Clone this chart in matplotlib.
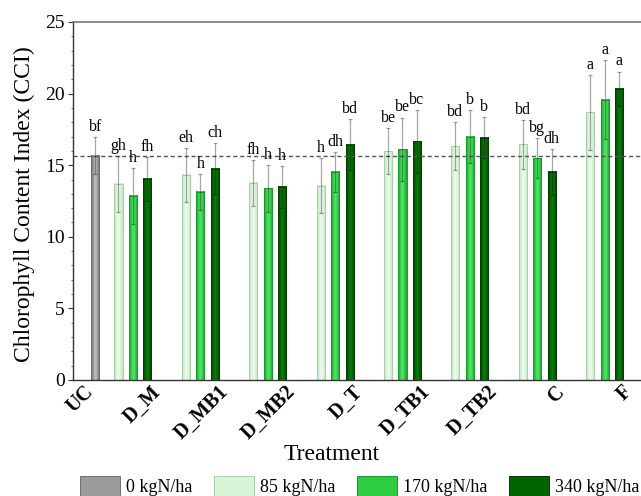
import numpy as np
import matplotlib
matplotlib.use("Agg")
import matplotlib.pyplot as plt
from matplotlib.colors import LinearSegmentedColormap
from matplotlib.patches import Patch

plt.rcParams['font.family'] = ['Liberation Serif', 'DejaVu Serif']

# ---------------- data ----------------
treatments = ['UC', 'D_M', 'D_MB1', 'D_MB2', 'D_T', 'D_TB1', 'D_TB2', 'C', 'F']
series_names = ['0 kgN/ha', '85 kgN/ha', '170 kgN/ha', '340 kgN/ha']

uc_value = 15.66
uc_err = 1.3
uc_letter = 'bf'

# treatments D_M ... F (8 groups)
n85 = [13.69, 14.32, 13.76, 13.57, 15.99, 16.32, 16.45, 18.69]
n85_err = [1.95, 1.9, 1.63, 1.92, 1.6, 1.68, 1.7, 2.6]
n85_let = ['gh', 'eh', 'fh', 'h', 'be', 'bd', 'bd', 'a']

n170 = [12.87, 13.15, 13.39, 14.53, 16.13, 16.99, 15.50, 19.58]
n170_err = [1.95, 1.25, 1.65, 1.4, 2.2, 1.85, 1.42, 2.78]
n170_let = ['h', 'h', 'h', 'dh', 'be', 'b', 'bg', 'a']

n340 = [14.04, 14.76, 13.48, 16.43, 16.67, 16.92, 14.53, 20.34]
n340_err = [1.52, 1.77, 1.44, 1.8, 2.2, 1.45, 1.58, 1.2]
n340_let = ['fh', 'ch', 'h', 'bd', 'bc', 'b', 'dh', 'a']

ref_line = uc_value

# ---------------- styling ----------------
base_cols = ['#9a9a9a', '#d6f5d6', '#2ecc40', '#006400']
grad_cols = [('#666666', '#c8c8c8'),
             ('#bde8bd', '#f2fdf2'),
             ('#0fa826', '#5ae86e'),
             ('#004400', '#0c800c')]
edge_cols = ['#707070', '#a9cfa9', '#1a9a2a', '#003c00']

fig = plt.figure(figsize=(6.41, 4.96), dpi=100)
ax = fig.add_axes([73/641, 116/496, 599/641, 358/496])

width = 0.12
off = 0.215
gx = np.arange(1, len(treatments))       # group centres D_M ... F
uc_x = 0.44

def gradient_fill(bars, c_dark, c_light):
    cmap = LinearSegmentedColormap.from_list('g', [c_dark, c_light, c_dark])
    grad = np.linspace(0, 1, 32).reshape(1, -1)
    for b in bars:
        x0, w, h = b.get_x(), b.get_width(), b.get_height()
        ax.imshow(grad, extent=[x0, x0 + w, 0, h], aspect='auto', cmap=cmap,
                  zorder=2.1, interpolation='bicubic')

err_kw = dict(fmt='none', ecolor=(0, 0, 0, 0.35), elinewidth=0.9, capsize=1.6,
              capthick=0.9, zorder=4)

# UC bar
b = ax.bar([uc_x], [uc_value], width, color=base_cols[0], edgecolor=edge_cols[0],
           linewidth=0.7, zorder=2)
gradient_fill(b, *grad_cols[0])
ax.errorbar([uc_x], [uc_value], yerr=[uc_err], **err_kw)
ax.annotate(uc_letter, (uc_x, uc_value + uc_err), xytext=(0, 1.5),
            textcoords='offset points', ha='center', va='bottom', fontsize=11.5, zorder=5)

for k, (vals, errs, lets) in enumerate([(n85, n85_err, n85_let),
                                        (n170, n170_err, n170_let),
                                        (n340, n340_err, n340_let)], start=1):
    xs = gx + (k - 2) * off
    bars = ax.bar(xs, vals, width, color=base_cols[k], edgecolor=edge_cols[k],
                  linewidth=0.7, zorder=2)
    gradient_fill(bars, *grad_cols[k])
    ax.errorbar(xs, vals, yerr=errs, **err_kw)
    for xi, v, e, l in zip(xs, vals, errs, lets):
        ax.annotate(l, (xi, v + e), xytext=(0, 1.5), textcoords='offset points',
                    ha='center', va='bottom', fontsize=11.5, zorder=5)

# bar outlines on top of gradients
for p in ax.patches:
    p.set_zorder(2.2)
    p.set_facecolor('none')

ax.axhline(ref_line, color='#555555', linestyle=(0, (3, 2)), linewidth=1.0, zorder=3)

ax.set_xlim(0.11, 9.0)
ax.set_ylim(0, 25)
ax.set_yticks(np.arange(0, 26, 5))
ax.set_yticks(np.arange(0, 26, 1), minor=True)
ax.tick_params(axis='y', which='major', direction='out', length=3.5, width=0.8,
               labelsize=14, pad=2.5, color='#333333')
ax.tick_params(axis='y', which='minor', direction='out', length=1.8, width=0.6,
               color='#555555')

label_x = np.arange(len(treatments)) + 0.26
ax.set_xticks(label_x)
ax.set_xticklabels(treatments, rotation=45, ha='right', va='top',
                   rotation_mode='anchor', fontweight='bold', fontsize=14.5)
ax.tick_params(axis='x', length=0, pad=1.5)

for s in ['left', 'bottom']:
    ax.spines[s].set_color('#333333')
    ax.spines[s].set_linewidth(1.0)
ax.spines['top'].set_color('#777777')
ax.spines['top'].set_linewidth(1.2)
ax.spines['right'].set_visible(False)

ax.set_ylabel('Chlorophyll Content Index (CCI)', fontsize=17)
ax.yaxis.set_label_coords(-0.064, 0.49)
ax.set_xlabel('Treatment', fontsize=17)
ax.xaxis.set_label_coords(0.431, -0.18)

handles = [Patch(facecolor=base_cols[i], edgecolor=edge_cols[i], linewidth=0.7)
           for i in range(4)]
fig.legend(handles, series_names, loc='upper left', bbox_to_anchor=(80/641, 1 - 476/496),
           ncol=4, frameon=False, fontsize=13, handlelength=2.2, handleheight=1.3,
           handletextpad=0.35, columnspacing=1.2, borderpad=0, borderaxespad=0)

fig.savefig('out.png', dpi=100)
